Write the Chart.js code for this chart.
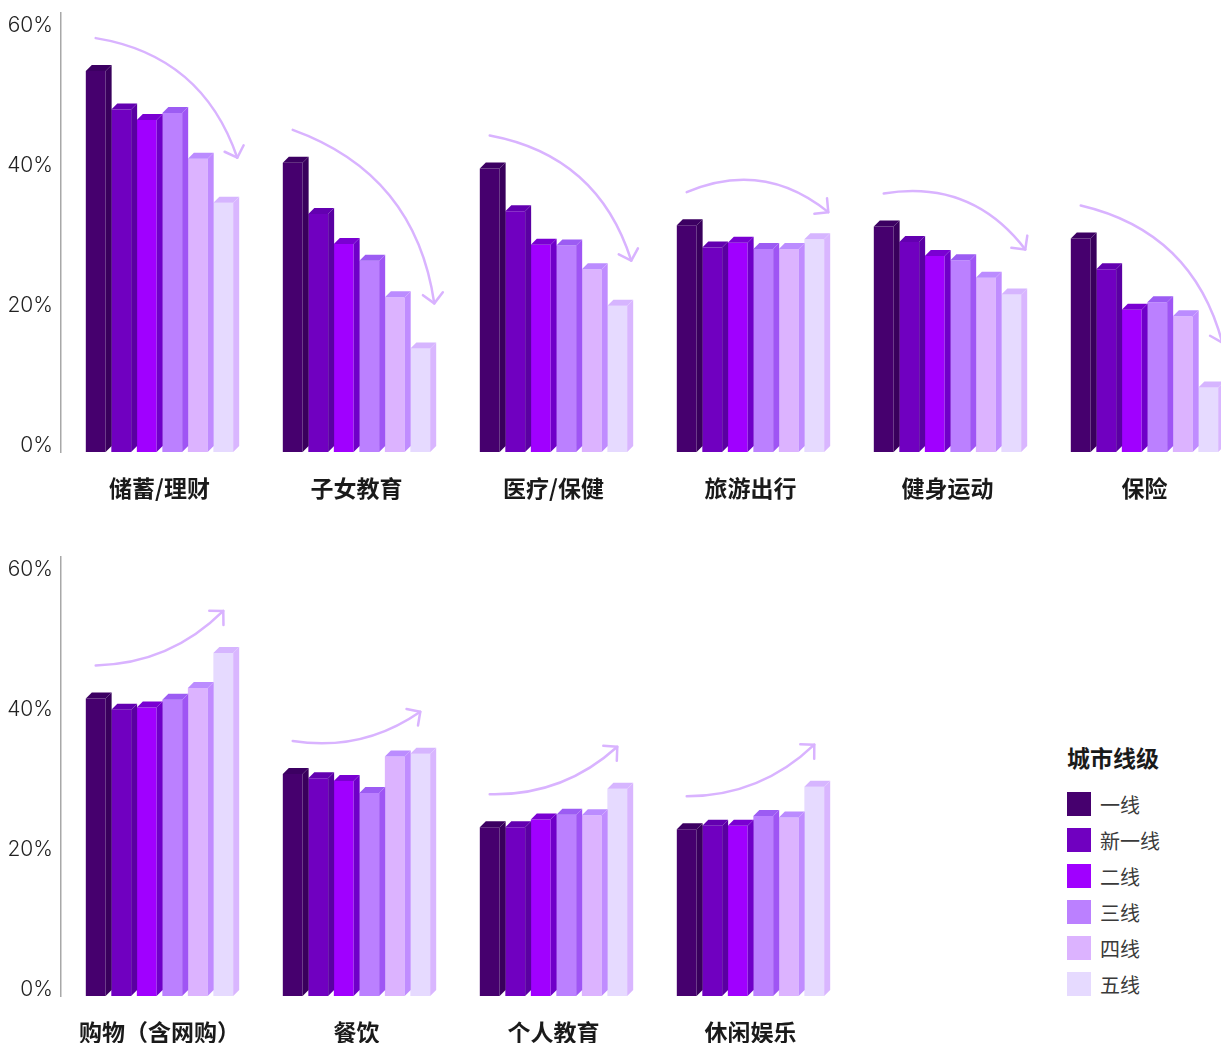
<!DOCTYPE html>
<html lang="zh-CN">
<head>
<meta charset="utf-8">
<title>不同城市线级的消费意愿</title>
<script src="https://cdn.jsdelivr.net/npm/chart.js@4.4.1/dist/chart.umd.min.js"></script>
<style>
  html, body { margin: 0; padding: 0; background: #fff; overflow: hidden; }
  body { width: 1221px; height: 1043px; position: relative; }
  #topChart { position: absolute; left: 0; top: 0; }
  #bottomChart { position: absolute; left: 0; top: 544px; }
  .legend { position: absolute; left: 1067px; top: 743px; font-family: "Noto Sans CJK SC", sans-serif; }
  .legend h4 { margin: 0 0 15px; font-size: 23px; line-height: 28px; font-weight: 700; color: #1a1a1a; }
  .legend ul { list-style: none; margin: 0; padding: 0; }
  .legend li { display: flex; align-items: center; height: 36px; font-size: 20px; color: #3a3a3a; }
  .legend li span { display: inline-block; width: 24px; height: 24px; margin-right: 9px; }
</style>
</head>
<body>
<canvas id="topChart" width="1243" height="512"></canvas>
<canvas id="bottomChart" width="849" height="512"></canvas>
<div class="legend" id="legend"></div>

<script>
const tiers = ['一线', '新一线', '二线', '三线', '四线', '五线'];
const yTicks = [0, 20, 40, 60];

// 上排：六个消费类别
const topCategories = ['储蓄/理财', '子女教育', '医疗/保健', '旅游出行', '健身运动', '保险'];
const topFirst    = [54.4, 41.3, 40.5, 32.4, 32.2, 30.5];
const topNewFirst = [48.9, 34.0, 34.4, 29.2, 30.0, 26.1];
const topSecond   = [47.4, 29.7, 29.6, 29.9, 28.0, 20.3];
const topThird    = [48.4, 27.3, 29.5, 29.0, 27.4, 21.4];
const topFourth   = [41.9, 22.1, 26.1, 29.0, 24.9, 19.4];
const topFifth    = [35.6, 14.8, 20.9, 30.4, 22.5, 9.2];

// 下排：四个消费类别
const bottomCategories = ['购物（含网购）', '餐饮', '个人教育', '休闲娱乐'];
const bottomFirst    = [42.5, 31.7, 24.1, 23.8];
const bottomNewFirst = [40.9, 31.1, 24.1, 24.3];
const bottomSecond   = [41.2, 30.7, 25.2, 24.3];
const bottomThird    = [42.3, 29.0, 25.9, 25.7];
const bottomFourth   = [44.0, 34.2, 25.8, 25.5];
const bottomFifth    = [49.0, 34.6, 29.6, 29.9];

// 正面 / 侧面 / 顶面 三种色
const frontColors = ['#46006e', '#7000c0', '#a000ff', '#bb80ff', '#dcb3ff', '#e6daff'];
const sideColors  = ['#39005c', '#5a00a2', '#6f00c8', '#9f55f4', '#c08cff', '#d9b6ff'];
const topColors   = ['#3c0062', '#6300b0', '#7a00d2', '#9c5cf3', '#bb8cff', '#d6b5ff'];
const arrowColor = '#d9b3ff';

const DEPTH_X = 6;
const DEPTH_Y = 6;

// 给每根柱子补上顶面和右侧面，做出立体效果
const bar3d = {
  id: 'bar3d',
  afterDatasetsDraw(chart) {
    const ctx = chart.ctx;
    ctx.save();
    chart.data.datasets.forEach((ds, i) => {
      chart.getDatasetMeta(i).data.forEach(bar => {
        const { x, y, base, width } = bar.getProps(['x', 'y', 'base', 'width'], true);
        const l = x - width / 2;
        const r = x + width / 2;
        ctx.fillStyle = topColors[i];
        ctx.beginPath();
        ctx.moveTo(l, y);
        ctx.lineTo(l + DEPTH_X, y - DEPTH_Y);
        ctx.lineTo(r + DEPTH_X, y - DEPTH_Y);
        ctx.lineTo(r, y);
        ctx.closePath();
        ctx.fill();
        ctx.fillStyle = sideColors[i];
        ctx.beginPath();
        ctx.moveTo(r, y);
        ctx.lineTo(r + DEPTH_X, y - DEPTH_Y);
        ctx.lineTo(r + DEPTH_X, base - DEPTH_Y);
        ctx.lineTo(r, base);
        ctx.closePath();
        ctx.fill();
      });
    });
    ctx.restore();
  }
};

// 每组柱子上方的趋势箭头：从一线柱顶弯向五线柱顶
const trendArrows = {
  id: 'trendArrows',
  afterDatasetsDraw(chart) {
    const ctx = chart.ctx;
    const sets = chart.data.datasets;
    const last = sets.length - 1;
    const firstBars = chart.getDatasetMeta(0).data;
    const lastBars = chart.getDatasetMeta(last).data;
    ctx.save();
    ctx.strokeStyle = arrowColor;
    ctx.lineWidth = 2.5;
    ctx.lineCap = 'round';
    ctx.lineJoin = 'round';
    chart.data.labels.forEach((label, c) => {
      const v1 = sets[0].data[c];
      const v6 = sets[last].data[c];
      const rising = v6 > v1;
      const drop = v1 - v6;
      const b1 = firstBars[c];
      const b6 = lastBars[c];
      const sx = b1.x;
      const sy = b1.y - 33;
      const ex = rising ? b6.x : b6.x + 14;
      const ey = b6.y - (rising ? 42 : (drop < 3 ? 27 : 45));
      const dx = ex - sx;
      const dy = ey - sy;
      const len = Math.hypot(dx, dy);
      const bend = (rising ? -0.2 : 0.3) * len;
      const cx = (sx + ex) / 2 + bend * dy / len;
      const cy = (sy + ey) / 2 - bend * dx / len;

      ctx.beginPath();
      ctx.moveTo(sx, sy);
      ctx.quadraticCurveTo(cx, cy, ex, ey);
      ctx.stroke();

      // 箭头两翼
      const ang = Math.atan2(ey - cy, ex - cx);
      const wing = 14;
      ctx.beginPath();
      ctx.moveTo(ex - wing * Math.cos(ang - 0.8), ey - wing * Math.sin(ang - 0.8));
      ctx.lineTo(ex, ey);
      ctx.lineTo(ex - wing * Math.cos(ang + 0.8), ey - wing * Math.sin(ang + 0.8));
      ctx.stroke();
    });
    ctx.restore();
  }
};

function makeDatasets(series) {
  return series.map((data, i) => ({
    label: tiers[i],
    data: data,
    backgroundColor: frontColors[i],
    borderWidth: 0,
    categoryPercentage: 0.777,
    barPercentage: 0.777
  }));
}

function makeOptions() {
  return {
    responsive: false,
    animation: false,
    layout: { padding: { top: 13, left: 0, right: 0, bottom: 0 } },
    plugins: {
      legend: { display: false },
      tooltip: { enabled: false }
    },
    scales: {
      x: {
        grid: { display: false, drawTicks: false },
        border: { display: false },
        ticks: {
          padding: 22,
          color: '#1a1a1a',
          font: { family: '"Noto Sans CJK SC", sans-serif', size: 23, weight: 'bold' }
        },
        afterFit: scale => { scale.height = 60; }
      },
      y: {
        min: 0,
        max: 62.7,
        afterBuildTicks: scale => { scale.ticks = yTicks.map(v => ({ value: v })); },
        afterFit: scale => {
          // 轴宽固定，且不为刻度文字额外留白
          scale.width = 61;
          scale.paddingTop = 0;
          scale.paddingBottom = 0;
        },
        grid: { display: false, drawTicks: false },
        border: { display: true, color: '#a8a8a8', width: 1.5 },
        ticks: {
          padding: 8,
          labelOffset: -6,
          color: '#222',
          font: { family: 'Inter, sans-serif', size: 21, weight: 300 },
          callback: v => v + '%'
        }
      }
    }
  };
}

new Chart(document.getElementById('topChart'), {
  type: 'bar',
  data: {
    labels: topCategories,
    datasets: makeDatasets([topFirst, topNewFirst, topSecond, topThird, topFourth, topFifth])
  },
  options: makeOptions(),
  plugins: [bar3d, trendArrows]
});

new Chart(document.getElementById('bottomChart'), {
  type: 'bar',
  data: {
    labels: bottomCategories,
    datasets: makeDatasets([bottomFirst, bottomNewFirst, bottomSecond, bottomThird, bottomFourth, bottomFifth])
  },
  options: makeOptions(),
  plugins: [bar3d, trendArrows]
});

// 图例
const legendEl = document.getElementById('legend');
legendEl.innerHTML = '<h4>城市线级</h4><ul>' +
  tiers.map((t, i) => `<li><span style="background:${frontColors[i]}"></span>${t}</li>`).join('') +
  '</ul>';
</script>
</body>
</html>
